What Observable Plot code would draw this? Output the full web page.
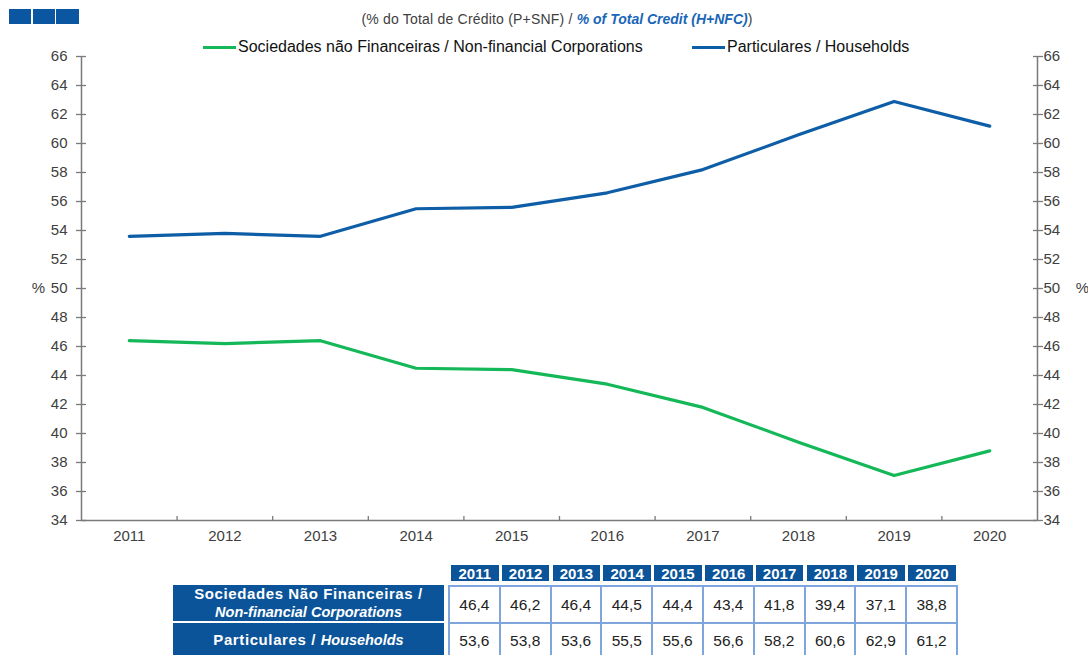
<!DOCTYPE html>
<html><head><meta charset="utf-8">
<script src="https://cdn.jsdelivr.net/npm/d3@7"></script>
<script src="https://cdn.jsdelivr.net/npm/@observablehq/plot@0.6"></script>
<style>
body{margin:0;background:#fff;font-family:Arial,"Liberation Sans",sans-serif;}
#root{position:relative;width:1088px;height:655px;overflow:hidden;}
.sq{position:absolute;top:9px;width:22px;height:15px;background:#0b56a0;}
#title{position:absolute;top:11px;left:0;width:1114px;text-align:center;font-size:14px;color:#404040;letter-spacing:0.2px;white-space:nowrap;}
#title .en{color:#1a66b8;font-style:italic;font-weight:bold;letter-spacing:0;}
.leg{position:absolute;top:38px;font-size:16px;color:#111;white-space:nowrap;display:flex;align-items:center;}
.leg .sw{display:inline-block;width:33px;height:3px;margin-right:2px;}
.hdr{position:absolute;top:565px;height:16px;background:#0b5499;color:#fff;font-weight:bold;font-size:15px;text-align:center;line-height:17px;}
.rowlab{position:absolute;left:173px;width:271px;background:#0b5499;color:#fff;text-align:center;font-weight:bold;display:flex;flex-direction:column;justify-content:center;line-height:18px;}
.rowlab .pt{font-size:15px;letter-spacing:0.6px;}
.rowlab .it{font-style:italic;font-size:14.5px;}
.cell{position:absolute;box-sizing:border-box;border-left:2px solid #7ea6dc;border-top:2px solid #7ea6dc;text-align:center;font-size:15.5px;color:#222;display:flex;align-items:center;justify-content:center;}
</style></head><body><div id="root"></div>
<script>
const years = [2011, 2012, 2013, 2014, 2015, 2016, 2017, 2018, 2019, 2020];
const nfc = [46.4, 46.2, 46.4, 44.5, 44.4, 43.4, 41.8, 39.4, 37.1, 38.8];
const households = [53.6, 53.8, 53.6, 55.5, 55.6, 56.6, 58.2, 60.6, 62.9, 61.2];
const seriesNames = ["Sociedades não Financeiras / Non-financial Corporations", "Particulares / Households"];
const seriesColors = ["#14b858", "#0d5ea6"];
const yTicks = [34, 36, 38, 40, 42, 44, 46, 48, 50, 52, 54, 56, 58, 60, 62, 64, 66];
const yearLabels = ["2011", "2012", "2013", "2014", "2015", "2016", "2017", "2018", "2019", "2020"];
const nfcLabels = ["46,4", "46,2", "46,4", "44,5", "44,4", "43,4", "41,8", "39,4", "37,1", "38,8"];
const hhLabels = ["53,6", "53,8", "53,6", "55,5", "55,6", "56,6", "58,2", "60,6", "62,9", "61,2"];

const root = document.getElementById("root");

[9, 33, 56].forEach(l => { const d = document.createElement("div"); d.className = "sq"; d.style.left = l + "px"; d.style.width = (l === 56 ? 23 : 22) + "px"; root.appendChild(d); });

const data = years.flatMap((y, i) => [
  {year: y, value: nfc[i], series: seriesNames[0]},
  {year: y, value: households[i], series: seriesNames[1]}
]);
const xDomain = [years[0] - 0.5, years[years.length - 1] + 0.5];
const boundaries = years.slice(0, -1).map(y => y + 0.5);
const noText = () => "";
const fs = 15;

const chart = Plot.plot({
  width: 1088, height: 545,
  marginLeft: 81, marginRight: 51, marginTop: 56, marginBottom: 25,
  style: {fontFamily: "Arial, 'Liberation Sans', sans-serif", fontSize: "15px", color: "#404040", background: "transparent"},
  x: {type: "linear", domain: xDomain},
  y: {domain: [yTicks[0], yTicks[yTicks.length - 1]]},
  color: {domain: seriesNames, range: seriesColors},
  marks: [
    Plot.axisY({anchor: "left", ticks: yTicks, tickSize: 10, dx: 5, tickFormat: noText, label: null, stroke: "#7a7a7a", strokeWidth: 1.3}),
    Plot.axisY({anchor: "right", ticks: yTicks, tickSize: 10, dx: -5, tickFormat: noText, label: null, stroke: "#7a7a7a", strokeWidth: 1.3}),
    Plot.axisY({anchor: "left", ticks: yTicks, tickSize: 0, tickPadding: 14, label: null, fill: "#404040", fontSize: fs}),
    Plot.axisY({anchor: "right", ticks: yTicks, tickSize: 0, tickPadding: 6, label: null, fill: "#404040", fontSize: fs}),
    Plot.axisX({anchor: "bottom", ticks: boundaries, tickSize: 4, dy: -4, tickFormat: noText, label: null, stroke: "#7a7a7a", strokeWidth: 1.3}),
    Plot.axisX({anchor: "bottom", ticks: years, tickSize: 0, tickPadding: 10, tickFormat: d => String(d), label: null, fill: "#404040", fontSize: fs}),
    Plot.ruleX(xDomain, {stroke: "#7a7a7a", strokeWidth: 1.5}),
    Plot.ruleY([yTicks[0]], {stroke: "#7a7a7a", strokeWidth: 1.5}),
    Plot.text(["%"], {frameAnchor: "left", dx: -43, textAnchor: "middle", fill: "#404040", fontSize: fs}),
    Plot.text(["%"], {frameAnchor: "right", dx: 45, textAnchor: "middle", fill: "#404040", fontSize: fs}),
    Plot.line(data, {x: "year", y: "value", stroke: "series", strokeWidth: 3.2, curve: "linear"})
  ]
});
chart.style.position = "absolute";
chart.style.left = "0px";
chart.style.top = "0px";
root.appendChild(chart);

const title = document.createElement("div");
title.id = "title";
title.innerHTML = '(% do Total de Crédito (P+SNF) / <span class="en">% of Total Credit (H+NFC)</span>)';
root.appendChild(title);

[[203, 0], [692, 1]].forEach(([left, i]) => {
  const d = document.createElement("div");
  d.className = "leg";
  d.style.left = left + "px";
  d.innerHTML = `<span class="sw" style="background:${seriesColors[i]}"></span><span>${seriesNames[i]}</span>`;
  root.appendChild(d);
});

const colStep = 50.8;
yearLabels.forEach((t, i) => {
  const h = document.createElement("div");
  h.className = "hdr";
  h.style.left = (451 + i * colStep) + "px";
  h.style.width = "47.5px";
  h.textContent = t;
  root.appendChild(h);
});
const r1 = document.createElement("div");
r1.className = "rowlab"; r1.style.top = "585px"; r1.style.height = "36px";
r1.innerHTML = '<span class="pt">Sociedades Não Financeiras /</span><span class="it">Non-financial Corporations</span>';
root.appendChild(r1);
const r2 = document.createElement("div");
r2.className = "rowlab"; r2.style.top = "623px"; r2.style.height = "34px";
r2.innerHTML = '<span class="pt">Particulares / <i style="font-size:14.5px;letter-spacing:0">Households</i></span>';
root.appendChild(r2);

[[nfcLabels, 585, 37], [hhLabels, 622, 36]].forEach(([labels, top, hgt]) => {
  labels.forEach((t, i) => {
    const c = document.createElement("div");
    c.className = "cell";
    c.style.left = (448 + i * colStep) + "px";
    c.style.top = top + "px";
    c.style.width = (colStep + (i === labels.length - 1 ? 2 : 0)) + "px";
    c.style.height = hgt + "px";
    if (i === labels.length - 1) c.style.borderRight = "2px solid #7ea6dc";
    c.textContent = t;
    root.appendChild(c);
  });
});
</script>
</body></html>
